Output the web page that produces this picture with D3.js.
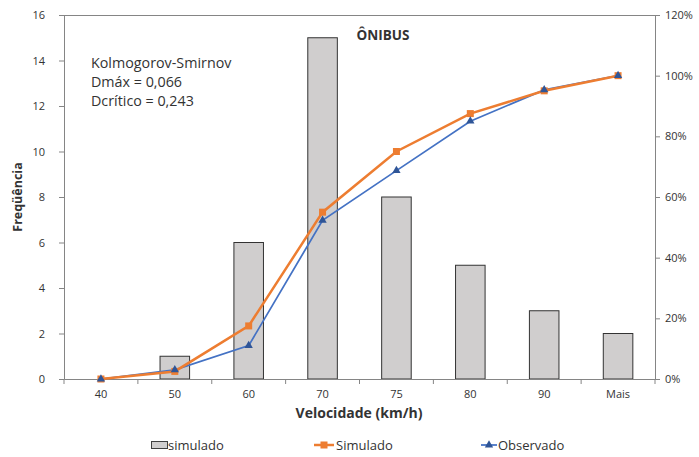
<!DOCTYPE html>
<html><head><meta charset="utf-8">
<script src="https://cdn.jsdelivr.net/npm/d3@7"></script>
<style>
body{margin:0;background:#fff;}
svg text{font-family:"Open Sans",sans-serif;fill:#333;}
</style></head>
<body><svg id="c" width="699" height="457"></svg>
<script>
const categories = ["40","50","60","70","75","80","90","Mais"];
const freqSimulado = [0,1,6,15,8,5,3,2];
const cumSimulado = [0,2.5,17.5,55,75,87.5,95,100];
const cumObservado = [0,3,11,52.3,68.7,85,95.3,100];
const leftTicks = [0,2,4,6,8,10,12,14,16];
const rightTicks = [0,20,40,60,80,100,120];

const svg = d3.select("#c");
const F = "'Open Sans',sans-serif";
const L=64, R=655, T=15, B=379;
const x = d3.scaleBand().domain(categories).range([L,R]).paddingInner(0).paddingOuter(0);
const y = d3.scaleLinear().domain([0,16]).range([B,T]);
const y2 = d3.scaleLinear().domain([0,120]).range([B,T]);
const axisColor = "#858585";

// bars
const bw = x.bandwidth()*0.4;
svg.append("g").selectAll("rect").data(freqSimulado).join("rect")
  .attr("x",(d,i)=>x(categories[i])+x.bandwidth()/2-bw/2)
  .attr("y",d=>y(d)).attr("width",bw).attr("height",d=>B-y(d))
  .attr("fill","#d0cece").attr("stroke","#333").attr("stroke-width",1);

// frame top
svg.append("line").attr("x1",L).attr("x2",R).attr("y1",T+0.5).attr("y2",T+0.5).attr("stroke",axisColor);

// left axis
const la = svg.append("g").attr("transform",`translate(${L},0)`)
  .call(d3.axisLeft(y).tickValues(leftTicks).tickSize(5).tickPadding(14));
// right axis
const ra = svg.append("g").attr("transform",`translate(${R},0)`)
  .call(d3.axisRight(y2).tickValues(rightTicks).tickSize(5).tickPadding(5).tickFormat(d=>d+"%"));
// bottom axis
const ba = svg.append("g").attr("transform",`translate(0,${B})`)
  .call(d3.axisBottom(x).tickSize(0).tickPadding(11));
const bounds = categories.map(c=>x(c)).concat([R]);
svg.append("g").selectAll("line").data(bounds).join("line")
  .attr("x1",d=>d).attr("x2",d=>d).attr("y1",B).attr("y2",B+5).attr("stroke",axisColor);
[la,ra,ba].forEach(g=>{
  g.selectAll(".domain").attr("stroke",axisColor);
  g.selectAll(".tick line").attr("stroke",axisColor);
  g.selectAll("text").attr("font-size",11).attr("fill","#404040").attr("font-family",F);
});

// lines
const cx = c=>x(c)+x.bandwidth()/2;
const line = d3.line().x((d,i)=>cx(categories[i])).y(d=>y2(d));
svg.append("path").datum(cumObservado).attr("d",line).attr("fill","none").attr("stroke","#4472c4").attr("stroke-width",1.75);
svg.append("path").datum(cumSimulado).attr("d",line).attr("fill","none").attr("stroke","#ed7d31").attr("stroke-width",2.5);
svg.append("g").selectAll("rect").data(cumSimulado).join("rect")
  .attr("x",(d,i)=>cx(categories[i])-3.5).attr("y",d=>y2(d)-3.5).attr("width",7).attr("height",7).attr("fill","#ed7d31");
const tri = d3.symbol().type(d3.symbolTriangle).size(30);
svg.append("g").selectAll("path").data(cumObservado).join("path")
  .attr("d",tri).attr("transform",(d,i)=>`translate(${cx(categories[i])},${y2(d)})`).attr("fill","#2f5597");

// texts
svg.append("text").attr("x",383).attr("y",40).attr("text-anchor","middle").attr("font-weight","bold").attr("font-size",13.5).attr("fill","#000").text("ÔNIBUS");
const ks = ["Kolmogorov-Smirnov","Dmáx = 0,066","Dcrítico = 0,243"];
svg.append("g").selectAll("text").data(ks).join("text")
  .attr("x",91).attr("y",(d,i)=>68+i*19).attr("font-size",14.3).attr("fill","#000").text(d=>d);
svg.append("text").attr("transform","translate(22,197) rotate(-90)").attr("text-anchor","middle").attr("font-weight","bold").attr("font-size",12.5).attr("fill","#000").text("Freqüência");
svg.append("text").attr("x",359).attr("y",418).attr("text-anchor","middle").attr("font-weight","bold").attr("font-size",14).attr("fill","#000").text("Velocidade (km/h)");

// legend
const lg = svg.append("g");
lg.append("rect").attr("x",151.5).attr("y",441.5).attr("width",16).attr("height",7).attr("fill","#d0cece").attr("stroke","#404040");
lg.append("text").attr("x",168).attr("y",450).attr("font-size",13).attr("fill","#333").text("simulado");
lg.append("line").attr("x1",314).attr("x2",334).attr("y1",445).attr("y2",445).attr("stroke","#ed7d31").attr("stroke-width",2.5);
lg.append("rect").attr("x",320.5).attr("y",441.5).attr("width",7).attr("height",7).attr("fill","#ed7d31");
lg.append("text").attr("x",336).attr("y",450).attr("font-size",13).attr("fill","#333").text("Simulado");
lg.append("line").attr("x1",481).attr("x2",497).attr("y1",445).attr("y2",445).attr("stroke","#4472c4").attr("stroke-width",1.75);
lg.append("path").attr("d",tri).attr("transform","translate(489,445)").attr("fill","#2f5597");
lg.append("text").attr("x",498).attr("y",450).attr("font-size",13).attr("fill","#333").text("Observado");
</script></body></html>
